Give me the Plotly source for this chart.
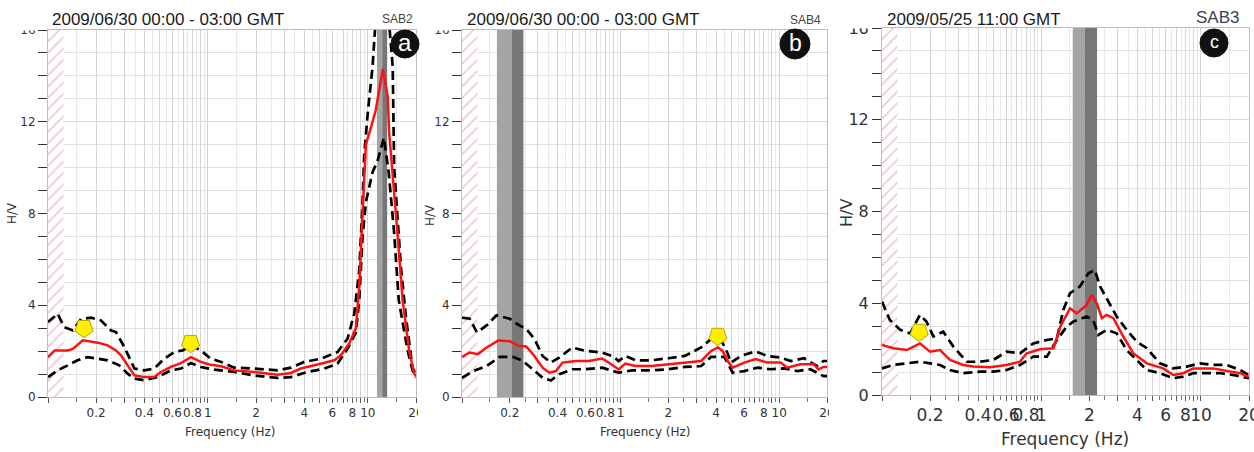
import numpy as np
import plotly.graph_objects as go

W, H = 1254, 452

# ---------------- data ----------------
F_MIN, F_MAX = 0.1, 20.0
HV_MAX = 16
hatch_limit = 0.125          # lower usable-frequency limit (hatched zone)

# Panel a  - SAB2
freq_a_mean = [0.1, 0.11, 0.133, 0.143, 0.165, 0.205, 0.236, 0.266, 0.286, 0.33, 0.347, 0.4, 0.462, 0.508,
               0.587, 0.678, 0.783, 0.904, 1.02, 1.21, 1.46, 1.95, 2.73, 3.3, 3.81, 4.85, 6.16, 6.78, 7.64,
               8.41, 8.83, 9.27, 9.72, 10.5, 11.2, 12.4, 13.3, 13.6, 14.3, 15.3, 16.5, 18.1, 19.4, 20]
hv_a_mean = [1.74, 2.03, 2.03, 2.1, 2.47, 2.37, 2.25, 2.03, 1.82, 1.16, 0.94, 0.87, 0.87, 1.09,
             1.31, 1.48, 1.74, 1.53, 1.42, 1.34, 1.16, 1.09, 0.97, 1.05, 1.24, 1.42, 1.6, 1.82, 2.33,
             3.0, 4.8, 8.0, 11.0, 11.8, 12.5, 14.3, 13.1, 11.5, 9.8, 7.2, 4.2, 2.05, 1.05, 0.9]
freq_a_up = [0.1, 0.115, 0.126, 0.143, 0.161, 0.186, 0.214, 0.248, 0.266, 0.3, 0.347, 0.4, 0.462, 0.533,
             0.616, 0.695, 0.783, 0.904, 1.04, 1.21, 1.46, 1.95, 2.73, 3.3, 4.0, 5.09, 6.46, 7.46, 8.22,
             8.83, 9.27, 9.48, 9.96, 10.7, 11.2, 13.5, 14.3, 14.6, 16.1, 17.3, 19.0, 20]
hv_a_up = [3.27, 3.63, 3.05, 2.9, 3.4, 3.46, 3.34, 2.9, 2.83, 2.18, 1.24, 1.16, 1.24, 1.67,
           1.96, 2.03, 2.25, 2.03, 1.67, 1.53, 1.28, 1.24, 1.16, 1.28, 1.53, 1.67, 1.96, 2.54, 3.63,
           5.5, 8.5, 10.5, 12.3, 14.4, 16.5, 16.5, 14.4, 10.0, 5.67, 3.5, 1.3, 0.95]
freq_a_lo = [0.1, 0.115, 0.133, 0.153, 0.177, 0.205, 0.236, 0.279, 0.315, 0.347, 0.4, 0.485, 0.587, 0.678,
             0.783, 0.904, 1.1, 1.46, 1.95, 2.73, 3.3, 4.2, 5.34, 6.46, 7.46, 8.41, 8.83, 9.27, 9.72,
             10.7, 11.5, 12.6, 13.1, 13.5, 14.6, 15.6, 17.7, 19.0, 20]
hv_a_lo = [0.87, 1.16, 1.38, 1.6, 1.74, 1.67, 1.6, 1.38, 1.02, 0.8, 0.73, 0.87, 1.16, 1.24,
           1.48, 1.31, 1.19, 1.09, 0.94, 0.83, 0.87, 1.09, 1.24, 1.45, 2.1, 2.8, 4.2, 7.0, 8.5,
           9.8, 10.3, 11.3, 10.5, 9.8, 7.15, 4.23, 2.05, 1.18, 0.85]
band_a = [11.4, 12.3, 13.2]
peak_freq_a = [0.168, 0.78]
peak_hv_a = [3.0, 2.35]

# Panel b  - SAB4
freq_b_mean = [0.1, 0.112, 0.126, 0.143, 0.169, 0.2, 0.225, 0.254, 0.286, 0.322, 0.355, 0.391, 0.43, 0.521,
               0.631, 0.764, 0.841, 0.972, 1.07, 1.24, 1.57, 2.0, 2.54, 3.22, 3.72, 4.1, 4.4, 4.73, 5.08,
               6.02, 7.11, 8.41, 10.2, 11.2, 13.6, 16.5, 17.7, 19.0, 20]
hv_b_mean = [1.75, 1.94, 1.87, 2.16, 2.46, 2.43, 2.24, 2.2, 1.79, 1.28, 1.06, 1.13, 1.5, 1.57,
             1.57, 1.68, 1.5, 1.2, 1.46, 1.35, 1.35, 1.43, 1.5, 1.57, 2.01, 2.16, 2.01, 1.57, 1.28,
             1.5, 1.65, 1.5, 1.5, 1.28, 1.43, 1.43, 1.2, 1.31, 1.31]
freq_b_up = [0.1, 0.112, 0.124, 0.143, 0.165, 0.2, 0.23, 0.254, 0.286, 0.322, 0.363, 0.41, 0.496, 0.601,
             0.764, 0.883, 0.972, 1.07, 1.24, 1.57, 2.0, 2.54, 3.22, 3.72, 4.3, 4.61, 4.96, 5.73, 7.11,
             8.41, 10.2, 11.8, 14.3, 17.3, 19.0, 20]
hv_b_up = [3.46, 3.41, 2.82, 3.12, 3.56, 3.41, 3.12, 2.97, 2.53, 1.79, 1.5, 1.72, 2.16, 2.01,
           1.94, 1.79, 1.57, 1.79, 1.6, 1.6, 1.69, 1.79, 2.16, 2.53, 2.46, 2.09, 1.5, 1.79, 1.99,
           1.79, 1.72, 1.57, 1.69, 1.35, 1.57, 1.57]
freq_b_lo = [0.1, 0.118, 0.143, 0.173, 0.209, 0.242, 0.279, 0.322, 0.363, 0.41, 0.496, 0.601, 0.764, 0.972,
             1.18, 1.57, 2.0, 2.54, 3.22, 3.72, 4.51, 5.08, 6.02, 7.29, 8.83, 10.7, 13.0, 15.7, 19.0, 20]
hv_b_lo = [0.84, 1.13, 1.35, 1.75, 1.75, 1.57, 1.21, 0.84, 0.72, 0.99, 1.21, 1.21, 1.28, 1.06,
           1.16, 1.16, 1.21, 1.31, 1.35, 1.75, 1.75, 1.06, 1.13, 1.28, 1.21, 1.25, 1.13, 1.21, 0.91, 0.91]
band_b = [0.166, 0.205, 0.244]
peak_freq_b = [4.1]
peak_hv_b = [2.66]

# Panel c  - SAB3
freq_c_mean = [0.1, 0.118, 0.143, 0.173, 0.2, 0.231, 0.267, 0.323, 0.373, 0.475, 0.605, 0.733, 0.807, 0.979,
               1.19, 1.31, 1.51, 1.66, 1.92, 2.06, 2.22, 2.39, 2.56, 2.82, 3.26, 3.76, 4.57, 5.8, 6.7,
               7.74, 8.95, 11.9, 15.2, 17.6, 19.8, 20]
hv_c_mean = [2.18, 2.04, 1.96, 2.25, 1.89, 1.96, 1.53, 1.31, 1.24, 1.21, 1.31, 1.45, 1.82, 1.99,
             2.04, 2.98, 3.78, 3.56, 3.93, 4.36, 4.0, 3.35, 3.49, 3.35, 2.55, 1.82, 1.38, 1.16, 0.87,
             0.95, 1.16, 1.16, 1.02, 0.95, 0.8, 0.8]
freq_c_up = [0.1, 0.112, 0.13, 0.15, 0.173, 0.19, 0.21, 0.242, 0.28, 0.34, 0.411, 0.499, 0.605, 0.733,
             0.889, 1.08, 1.25, 1.37, 1.51, 1.74, 1.97, 2.16, 2.33, 2.56, 2.96, 3.42, 3.95, 4.57, 5.53,
             6.7, 8.13, 9.86, 11.9, 14.5, 17.6, 19.8, 20]
hv_c_up = [4.07, 3.27, 2.84, 2.69, 3.49, 3.2, 2.55, 2.76, 2.11, 1.45, 1.45, 1.53, 1.89, 1.82,
           2.25, 2.4, 2.47, 3.71, 4.44, 4.73, 5.31, 5.45, 4.73, 4.22, 3.42, 2.84, 2.33, 2.04, 1.38,
           1.16, 1.24, 1.38, 1.31, 1.31, 1.09, 0.87, 0.87]
freq_c_lo = [0.1, 0.118, 0.143, 0.173, 0.2, 0.231, 0.267, 0.323, 0.411, 0.499, 0.605, 0.733, 0.889, 1.08,
             1.25, 1.44, 1.58, 1.92, 2.11, 2.27, 2.56, 2.96, 3.42, 3.95, 4.57, 5.53, 6.7, 7.74, 8.95,
             10.9, 13.2, 16.0, 19.8, 20]
hv_c_lo = [1.16, 1.31, 1.38, 1.45, 1.38, 1.31, 1.09, 0.95, 1.02, 1.02, 1.09, 1.31, 1.67, 1.67,
           2.4, 2.98, 3.2, 3.42, 3.27, 2.62, 2.84, 2.69, 1.96, 1.53, 1.09, 0.95, 0.73, 0.8, 0.95,
           0.95, 0.95, 0.87, 0.73, 0.73]
band_c = [1.57, 1.87, 2.23]
peak_freq_c = [0.171]
peak_hv_c = [2.75]

titles = ["2009/06/30 00:00 - 03:00 GMT", "2009/06/30 00:00 - 03:00 GMT", "2009/05/25 11:00 GMT"]
stations = ["SAB2", "SAB4", "SAB3"]
letters = ["a", "b", "c"]

# tick values (log axis grid)
decades = [0.1, 1, 10]
grid_major = [v for v in sorted({round(m * d, 3) for d in decades for m in range(1, 10)}) if v <= F_MAX] + [20]
grid_minor = [v for v in sorted({round((m + 0.5) * d, 3) for d in decades for m in range(1, 10)}) if v < F_MAX]
tick_labels = {0.2: "0.2", 0.4: "0.4", 0.6: "0.6", 0.8: "0.8", 1: "1", 2: "2", 4: "4",
               6: "6", 8: "8", 10: "10", 20: "20"}
ticktext = [tick_labels.get(v, "") for v in grid_major]

# ---------------- layout geometry (pixels) ----------------
panels = [
    dict(xd=(48, 416), yd=(30, 397), fs_tick=12, fs_title=17, fs_st=12, st_color="#444444",
         title_x=50, title_y=20, st_x=398, st_y=19, circ=(405, 44, 14), circ_fs=24,
         hv_x=12, hv_y=213, hv_fs=12, fq_x=230, fq_y=432, fq_fs=12,
         data=(freq_a_mean, hv_a_mean, freq_a_up, hv_a_up, freq_a_lo, hv_a_lo, band_a, peak_freq_a, peak_hv_a)),
    dict(xd=(462, 827), yd=(30, 397), fs_tick=12, fs_title=17, fs_st=12, st_color="#444444",
         title_x=465, title_y=20, st_x=806, st_y=20, circ=(795, 44, 15), circ_fs=23,
         hv_x=430, hv_y=215, hv_fs=12, fq_x=645, fq_y=432, fq_fs=12,
         data=(freq_b_mean, hv_b_mean, freq_b_up, hv_b_up, freq_b_lo, hv_b_lo, band_b, peak_freq_b, peak_hv_b)),
    dict(xd=(882, 1249), yd=(28, 395), fs_tick=17, fs_title=17, fs_st=17, st_color="#3a4250",
         title_x=885, title_y=19, st_x=1217, st_y=17, circ=(1214, 43, 14), circ_fs=18,
         hv_x=846, hv_y=213, hv_fs=16, fq_x=1065, fq_y=439, fq_fs=17,
         data=(freq_c_mean, hv_c_mean, freq_c_up, hv_c_up, freq_c_lo, hv_c_lo, band_c, peak_freq_c, peak_hv_c)),
]

def fx(p):
    return p / W

def fy(p):
    return 1 - p / H

fig = go.Figure()
layout = dict(width=W, height=H, margin=dict(l=0, r=0, t=0, b=0, pad=0), autosize=False,
              paper_bgcolor="white", plot_bgcolor="white", showlegend=False)
shapes = []
annotations = []

for i, p in enumerate(panels):
    n = "" if i == 0 else str(i + 1)
    xref, yref = "x" + n, "y" + n
    fm, hm, fu, hu, fl, hl, band, pf, ph = p["data"]

    layout["xaxis" + n] = dict(
        domain=[fx(p["xd"][0]), fx(p["xd"][1])], type="log",
        range=[np.log10(F_MIN), np.log10(F_MAX)], anchor=yref,
        tickmode="array", tickvals=grid_major, ticktext=ticktext, tickangle=0,
        ticklabeloverflow="allow",
        ticks="outside", ticklen=5, tickcolor="#555555", tickwidth=1,
        showgrid=True, gridcolor="#d4d4d4", gridwidth=1,
        minor=dict(tickvals=grid_minor, ticks="outside", ticklen=4, tickcolor="#777777",
                   showgrid=True, gridcolor="#e8e8e8", gridwidth=1),
        showline=True, linecolor="#bdbdbd", mirror=True, zeroline=False,
        tickfont=dict(family="DejaVu Sans", size=p["fs_tick"], color="#333333"),
        fixedrange=True, automargin=False,
    )
    layout["yaxis" + n] = dict(
        domain=[fy(p["yd"][1]), fy(p["yd"][0])], range=[0, HV_MAX], anchor=xref,
        tickmode="array", tickvals=list(range(0, HV_MAX + 1, 4)),
        ticks="outside", ticklen=9, tickcolor="#333333", tickwidth=1.3,
        showgrid=True, gridcolor="#dadada", gridwidth=1,
        minor=dict(dtick=1, ticks="outside", ticklen=9, tickcolor="#333333", tickwidth=1.3,
                   showgrid=True, gridcolor="#e0e0e0"),
        showline=True, linecolor="#bdbdbd", mirror=True, zeroline=False,
        tickfont=dict(family="DejaVu Sans", size=p["fs_tick"] if i < 2 else 16, color="#333333"),
        fixedrange=True, automargin=False,
    )

    # hatched low-frequency zone
    fig.add_trace(go.Scatter(
        x=[F_MIN, hatch_limit, hatch_limit, F_MIN], y=[0, 0, HV_MAX, HV_MAX],
        xaxis=xref, yaxis=yref, mode="lines", fill="toself", line=dict(width=0),
        fillcolor="rgba(255,255,255,0)",
        fillpattern=dict(shape="/", fgcolor="#e08fa5", bgcolor="white",
                         size=8, solidity=0.22),
        hoverinfo="skip"))

    # peak frequency band (light / dark halves)
    for (b0, b1), col in (((band[0], band[1]), "#a4a4a4"), ((band[1], band[2]), "#777777")):
        fig.add_trace(go.Scatter(x=[b0, b1, b1, b0], y=[0, 0, HV_MAX, HV_MAX], xaxis=xref, yaxis=yref,
                                 mode="lines", fill="toself", fillcolor=col, line=dict(width=0),
                                 hoverinfo="skip"))

    # std curves (dashed) and mean curve
    for fq, hv in ((fu, hu), (fl, hl)):
        fig.add_trace(go.Scatter(x=fq, y=hv, xaxis=xref, yaxis=yref, mode="lines",
                                 line=dict(color="black", width=2.7, dash="9px,5px"),
                                 hoverinfo="skip"))
    fig.add_trace(go.Scatter(x=fm, y=hm, xaxis=xref, yaxis=yref, mode="lines",
                             line=dict(color="#ff1111", width=2.5), hoverinfo="skip"))
    # peak markers
    fig.add_trace(go.Scatter(x=pf, y=ph, xaxis=xref, yaxis=yref, mode="markers",
                             marker=dict(symbol="pentagon", angle=180, size=19, color="#ffee00",
                                         line=dict(color="#b8a800", width=1)),
                             hoverinfo="skip"))

    # mimic cropped top of "16" label
    shapes.append(dict(type="rect", xref="paper", yref="paper", x0=fx(p["xd"][0] - 36),
                       x1=fx(p["xd"][0] - 10), y0=fy(p["yd"][0] + 0.5), y1=1,
                       fillcolor="white", line=dict(width=0), layer="above"))

    # title, station, circle letter
    annotations.append(dict(text=titles[i], xref="paper", yref="paper", x=fx(p["title_x"]),
                            y=fy(p["title_y"]), xanchor="left", yanchor="middle", showarrow=False,
                            font=dict(family="Liberation Sans", size=p["fs_title"], color="#1a1a1a")))
    annotations.append(dict(text=stations[i], xref="paper", yref="paper", x=fx(p["st_x"]),
                            y=fy(p["st_y"]), xanchor="center", yanchor="middle", showarrow=False,
                            font=dict(family="Liberation Sans", size=p["fs_st"], color=p["st_color"])))
    cx, cy, r = p["circ"]
    shapes.append(dict(type="circle", xref="paper", yref="paper", x0=fx(cx - r), x1=fx(cx + r),
                       y0=fy(cy + r), y1=fy(cy - r), fillcolor="#111111",
                       line=dict(color="#111111", width=1), layer="above"))
    annotations.append(dict(text=letters[i], xref="paper", yref="paper", x=fx(cx), y=fy(cy - 1),
                            xanchor="center", yanchor="middle", showarrow=False,
                            font=dict(family="Liberation Sans", size=p["circ_fs"], color="white")))
    # axis titles
    annotations.append(dict(text="H/V", xref="paper", yref="paper", x=fx(p["hv_x"]), y=fy(p["hv_y"]),
                            xanchor="center", yanchor="middle", textangle=-90, showarrow=False,
                            font=dict(family="DejaVu Sans", size=p["hv_fs"], color="#333333")))
    annotations.append(dict(text="Frequency (Hz)", xref="paper", yref="paper", x=fx(p["fq_x"]),
                            y=fy(p["fq_y"]), xanchor="center", yanchor="middle", showarrow=False,
                            font=dict(family="DejaVu Sans", size=p["fq_fs"], color="#333333")))

# crop the "0" of the 20 Hz labels at the right edges of panels a and b
shapes.append(dict(type="rect", xref="paper", yref="paper", x0=fx(418), x1=fx(438),
                   y0=fy(428), y1=fy(401), fillcolor="white", line=dict(width=0), layer="above"))
shapes.append(dict(type="rect", xref="paper", yref="paper", x0=fx(829), x1=fx(845),
                   y0=fy(428), y1=fy(401), fillcolor="white", line=dict(width=0), layer="above"))

layout["shapes"] = shapes
layout["annotations"] = annotations
fig.update_layout(**layout)
fig.write_html(
    "out.html",
    config={"responsive": False, "displayModeBar": False},
    post_script="document.body.style.margin='0';document.body.style.padding='0';"
                "document.body.style.overflow='hidden';",
)
